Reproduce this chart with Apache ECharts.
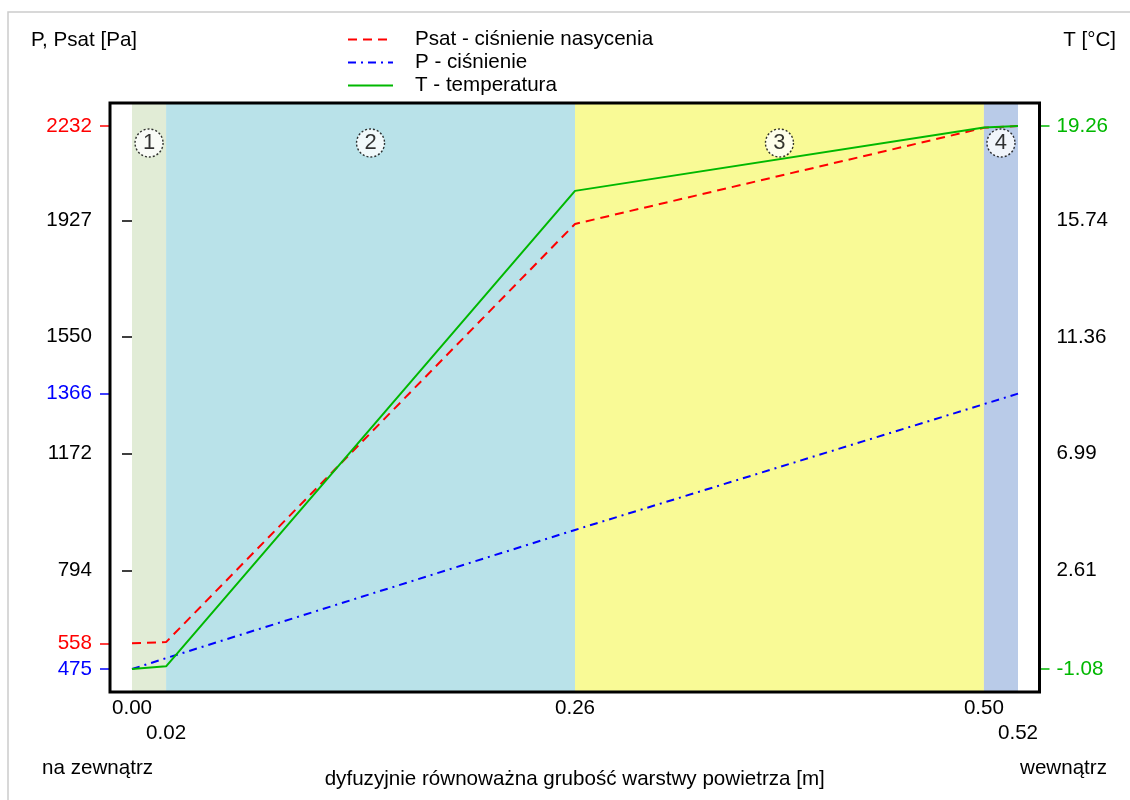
<!DOCTYPE html>
<html>
<head>
<meta charset="utf-8">
<script src="https://cdn.jsdelivr.net/npm/echarts@6/dist/echarts.min.js"></script>
<style>
  html, body { margin: 0; padding: 0; background: #fff; }
  #chart { width: 1130px; height: 800px; }
</style>
</head>
<body>
<div id="chart"></div>
<script>
// ---------- data ----------
const layerBounds = [0, 0.02, 0.26, 0.50, 0.52];
const layerNames = ['1', '2', '3', '4'];
const xPos = [0, 0.02, 0.26, 0.50, 0.52];
const psatValues = [558, 562, 1915, 2226, 2232];
const pValues = [475, 510, 925, 1332, 1366];
const tValues = [-1.08, -0.98, 16.83, 19.20, 19.26];
const leftTicks = [475, 558, 794, 1172, 1366, 1550, 1927, 2232];
const rightTicks = [-1.08, 2.61, 6.99, 11.36, 15.74, 19.26];
const xTicksRow1 = [0, 0.26, 0.50];
const xTicksRow2 = [0.02, 0.52];
const seriesNames = ['Psat - ciśnienie nasycenia', 'P - ciśnienie', 'T - temperatura'];
const leftTitle = 'P, Psat [Pa]';
const rightTitle = 'T [°C]';
const xTitle = 'dyfuzyjnie równoważna grubość warstwy powietrza [m]';
const outsideLabel = 'na zewnątrz';
const insideLabel = 'wewnątrz';

// ---------- styles ----------
const FONT = 'Liberation Sans, Arial, sans-serif';
const FS = 20.6;
const RED = '#ff0000', BLUE = '#0000ff', GREEN = '#00b800';
const bandColors = ['#e1ecd6', '#b9e2e9', '#f9fa96', '#b9cbe8'];
const G = { left: 110, top: 103, width: 929.5, height: 589 };

// axis ranges with padding around outer ticks / layers
const padFrac = 23 / 543;
const lMin = Math.min(...leftTicks), lMax = Math.max(...leftTicks);
const yLMin = lMin - (lMax - lMin) * padFrac, yLMax = lMax + (lMax - lMin) * padFrac;
const rMin = Math.min(...rightTicks), rMax = Math.max(...rightTicks);
const yRMin = rMin - (rMax - rMin) * padFrac, yRMax = rMax + (rMax - rMin) * padFrac;
const xSpan = layerBounds[layerBounds.length - 1] - layerBounds[0];
const xMin = layerBounds[0] - xSpan * (22 / 886);
const xMax = layerBounds[layerBounds.length - 1] + xSpan * (21.5 / 886);

const redTicks = [psatValues[0], psatValues[psatValues.length - 1]];
const blueTicks = [pValues[0], pValues[pValues.length - 1]];
const greenTicks = [tValues[0], tValues[tValues.length - 1]];
const blackLeft = leftTicks.filter(v => !redTicks.includes(v) && !blueTicks.includes(v));
const blackRight = rightTicks.filter(v => !greenTicks.includes(v));

function yAx(pos, min, max, vals, color, fmt, margin) {
  return {
    type: 'value', position: pos, min: min, max: max,
    splitLine: { show: false },
    axisLine: { show: false },
    axisTick: { show: true, inside: false, length: 10, customValues: vals, lineStyle: { color: color, width: 1.5 } },
    axisLabel: { show: true, customValues: vals, margin: margin, color: color, fontSize: FS, fontFamily: FONT, formatter: fmt }
  };
}
function xAx(vals, margin, withName) {
  const a = {
    type: 'value', min: xMin, max: xMax, position: 'bottom',
    splitLine: { show: false }, axisLine: { show: false }, axisTick: { show: false },
    axisLabel: { customValues: vals, margin: margin, color: '#000', fontSize: FS, fontFamily: FONT,
      formatter: v => v.toFixed(2) }
  };
  if (withName) {
    a.name = xTitle; a.nameLocation = 'middle'; a.nameGap = 77;
    a.nameTextStyle = { color: '#000', fontSize: FS, fontFamily: FONT };
  }
  return a;
}

const bandData = layerNames.map((n, i) => [
  { xAxis: layerBounds[i], yAxis: yLMin, itemStyle: { color: bandColors[i] } },
  { xAxis: layerBounds[i + 1], yAxis: yLMax }
]);
const circleRow = yLMax - (yLMax - yLMin) * (40 / 589);
const circleData = layerNames.map((n, i) => [(layerBounds[i] + layerBounds[i + 1]) / 2, circleRow, n]);

const chart = echarts.init(document.getElementById('chart'), null, { renderer: 'canvas' });
chart.setOption({
  animation: false,
  backgroundColor: '#fff',
  textStyle: { fontFamily: FONT },
  grid: { left: G.left, top: G.top, width: G.width, height: G.height, show: false },
  legend: {
    orient: 'vertical', left: 342, top: 24,
    itemWidth: 45, itemHeight: 14, itemGap: 2,
    data: seriesNames,
    itemStyle: { opacity: 0 },
    textStyle: { fontSize: FS, fontFamily: FONT, color: '#000', lineHeight: 20, padding: [0, 0, 0, 17] }
  },
  xAxis: [xAx(xTicksRow1, 6, true), xAx(xTicksRow2, 31, false)],
  yAxis: [
    yAx('left', yLMin, yLMax, blackLeft, '#000', v => String(v), 18),
    yAx('right', yRMin, yRMax, blackRight, '#000', v => v.toFixed(2), 17),
    yAx('left', yLMin, yLMax, redTicks, RED, v => String(v), 18),
    yAx('left', yLMin, yLMax, blueTicks, BLUE, v => String(v), 18),
    yAx('right', yRMin, yRMax, greenTicks, GREEN, v => v.toFixed(2), 17)
  ],
  graphic: [
    { type: 'rect', z: -10, silent: true, shape: { x: 8, y: 12, width: 1200, height: 900 },
      style: { fill: null, stroke: '#cccccc', lineWidth: 1.5 } },
    { type: 'rect', z: 100, silent: true, shape: { x: G.left, y: G.top, width: G.width, height: G.height },
      style: { fill: null, stroke: '#000', lineWidth: 3 } },
    { type: 'text', left: 31, top: 30, style: { text: leftTitle, fontSize: FS, fontFamily: FONT, fill: '#000' } },
    { type: 'text', right: 1130 - 1116, top: 30, style: { text: rightTitle, fontSize: FS, fontFamily: FONT, fill: '#000' } },
    { type: 'text', left: 42, top: 758, style: { text: outsideLabel, fontSize: FS, fontFamily: FONT, fill: '#000' } },
    { type: 'text', right: 1130 - 1107, top: 758, style: { text: insideLabel, fontSize: FS, fontFamily: FONT, fill: '#000' } }
  ],
  series: [
    {
      name: 'bands', type: 'line', data: [], silent: true, z: 0,
      markArea: { silent: true, data: bandData }
    },
    {
      name: seriesNames[0], type: 'line', symbol: 'none', z: 3,
      data: xPos.map((x, i) => [x, psatValues[i]]),
      lineStyle: { color: RED, width: 2, type: [9, 6] }, itemStyle: { color: RED }
    },
    {
      name: seriesNames[1], type: 'line', symbol: 'none', z: 3,
      data: xPos.map((x, i) => [x, pValues[i]]),
      lineStyle: { color: BLUE, width: 2, type: [8, 5, 2, 5] }, itemStyle: { color: BLUE }
    },
    {
      name: seriesNames[2], type: 'line', symbol: 'none', yAxisIndex: 1, z: 4,
      data: xPos.map((x, i) => [x, tValues[i]]),
      lineStyle: { color: GREEN, width: 2 }, itemStyle: { color: GREEN }
    },
    {
      name: 'layers', type: 'scatter', z: 5, silent: true,
      data: circleData, symbolSize: 28,
      itemStyle: { color: '#fff', borderColor: '#000', borderWidth: 1.4, borderType: [2, 2] },
      label: { show: true, position: 'inside', formatter: p => p.data[2], color: '#000', fontSize: 22, fontFamily: FONT }
    }
  ]
});
</script>
</body>
</html>
